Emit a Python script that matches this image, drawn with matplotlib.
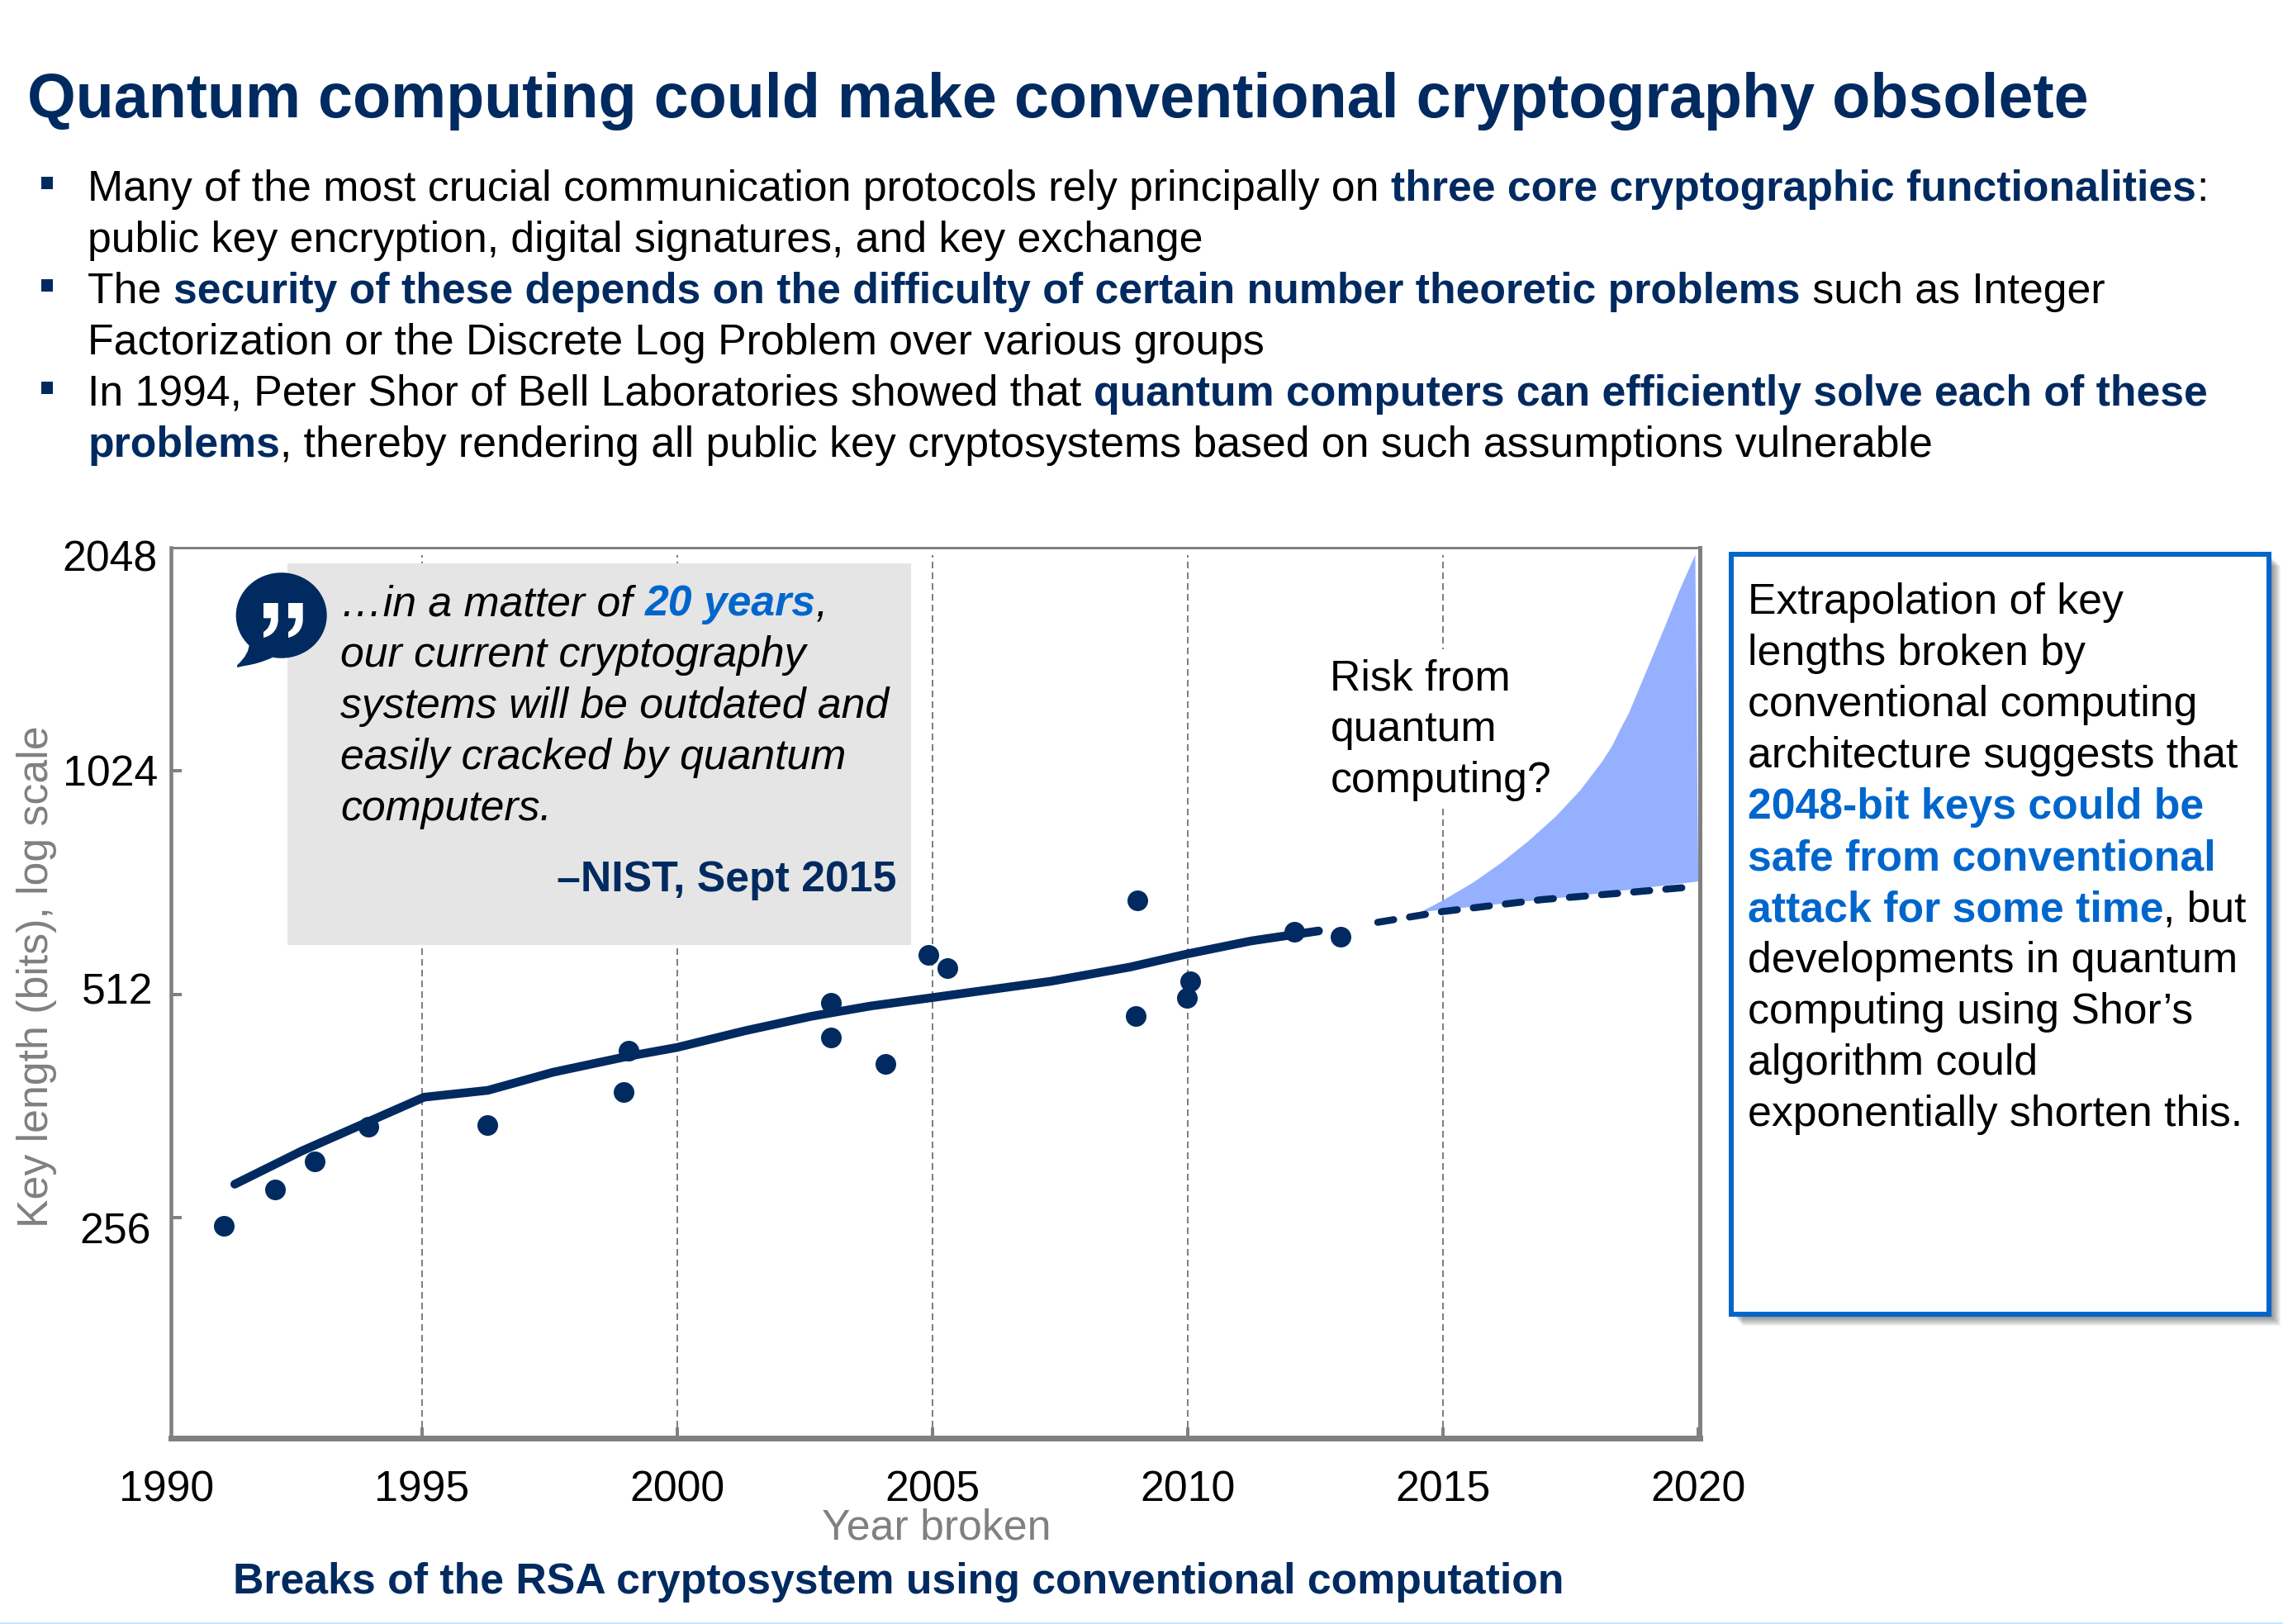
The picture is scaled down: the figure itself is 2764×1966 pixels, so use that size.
import numpy as np
import matplotlib
matplotlib.use("Agg")
import matplotlib.pyplot as plt
from matplotlib.patches import Rectangle, Ellipse, PathPatch
from matplotlib.path import Path
from matplotlib.transforms import Affine2D

# ---------- data ----------
break_years = [1991.11, 1992.12, 1992.89, 1993.95, 1996.28, 1998.95, 1999.04, 2003.01, 2003.01, 2004.08,
               2004.92, 2005.29, 2009.01, 2008.98, 2010.05, 2009.98, 2012.08, 2012.99]
break_bits = [249.7, 279.3, 304.9, 339.2, 340.8, 378.2, 429.7, 447.9, 498.8, 412.5,
              578.3, 555.5, 685, 478.6, 532.6, 505.9, 621.2, 611.4]
trend_years = [1991.33, 1992.65, 1995.04, 1996.29, 1997.57, 1999.01, 1999.99, 2001.32, 2002.62, 2003.78,
               2005.03, 2007.32, 2008.87, 2009.98, 2011.24, 2012.56]
trend_bits = [284, 315, 372, 380, 402, 422, 434, 457, 478, 493.5, 507, 533, 557, 580, 604, 623]
extrap_years = [2013.72, 2015.0, 2016.94, 2018.56, 2019.80]
extrap_bits = [639.9, 661.8, 686.6, 701.3, 713.5]
risk_upper_years = [2014.56, 2015.00, 2015.59, 2016.13, 2016.67, 2017.21, 2017.69, 2018.12, 2018.31, 2018.47,
                    2018.64, 2018.82, 2019.09, 2019.36, 2019.63, 2019.94]
risk_upper_bits = [660.7, 684.9, 724.0, 768.5, 822.9, 888.6, 963.9, 1054.1, 1105, 1163.4,
                   1224, 1310.7, 1452, 1609, 1790, 2000]
risk_lower_years = [2020.00, 2017.48, 2014.56]
risk_lower_bits = [726.4, 692.4, 660.7]
x_ticks = [1990, 1995, 2000, 2005, 2010, 2015, 2020]
y_ticks = [256, 512, 1024, 2048]
grid_years = [1995, 2000, 2005, 2010, 2015]

title = "Quantum computing could make conventional cryptography obsolete"
bullets = [
    [("Many of the most crucial communication protocols rely principally on ", "n"),
     ("three core cryptographic functionalities", "b"), (":", "n")],
    [("public key encryption, digital signatures, and key exchange", "n")],
    [("The ", "n"), ("security of these depends on the difficulty of certain number theoretic problems", "b"),
     (" such as Integer", "n")],
    [("Factorization or the Discrete Log Problem over various groups", "n")],
    [("In 1994, Peter Shor of Bell Laboratories showed that ", "n"),
     ("quantum computers can efficiently solve each of these", "b")],
    [("problems", "b"), (", thereby rendering all public key cryptosystems based on such assumptions vulnerable", "n")],
]
quote = [
    [("…in a matter of ", "i"), ("20 years", "ib"), (",", "i")],
    [("our current cryptography", "i")],
    [("systems will be outdated and", "i")],
    [("easily cracked by quantum", "i")],
    [("computers.", "i")],
]
side = [
    [("Extrapolation of key", "n")],
    [("lengths broken by", "n")],
    [("conventional computing", "n")],
    [("architecture suggests that", "n")],
    [("2048-bit keys could be", "a")],
    [("safe from conventional", "a")],
    [("attack for some time", "a"), (", but", "n")],
    [("developments in quantum", "n")],
    [("computing using Shor’s", "n")],
    [("algorithm could", "n")],
    [("exponentially shorten this.", "n")],
]

# ---------- style ----------
W, H = 2764, 1966
NAVY = "#002A60"
BLUE = "#0066CC"
GRAY = "#808080"
FS = 18.64
plt.rcParams["font.family"] = ["Liberation Sans", "DejaVu Sans"]
fig = plt.figure(figsize=(W / 200, H / 200), dpi=200, facecolor="white")
PX = Affine2D().scale(1 / W, -1 / H).translate(0, 1) + fig.transFigure
px = 0.36  # points per pixel

STY = {
    "n": dict(color="black"),
    "b": dict(color=NAVY, fontweight="bold"),
    "a": dict(color=BLUE, fontweight="bold"),
    "i": dict(color="black", fontstyle="italic"),
    "ib": dict(color=BLUE, fontweight="bold", fontstyle="italic"),
}
renderer = fig.canvas.get_renderer()


def T(x, y, s, **kw):
    kw.setdefault("fontsize", FS)
    kw.setdefault("va", "baseline")
    return fig.text(x, y, s, transform=PX, **kw)


def advance(s, **kw):
    a = T(0, 0, s + "|", **kw)
    b = T(0, 0, "|", **kw)
    w = a.get_window_extent(renderer).width - b.get_window_extent(renderer).width
    a.remove()
    b.remove()
    return w


def rich(x, y, pieces):
    for s, k in pieces:
        T(x, y, s, **STY[k])
        x += advance(s, **STY[k])


# ---------- axes: 1990 at px 202, 2020.03 at 2058; 2048 at 662.5, 129.2 at 1741 ----------
L, R, TOP, BOT = 202.0, 2058.0, 662.5, 1741.0
ax = fig.add_axes([L / W, 1 - BOT / H, (R - L) / W, (BOT - TOP) / H])
ax.set_xscale("linear")
ax.set_yscale("log", base=2)
ax.set_xlim(1990, 2020.03)
ax.set_ylim(129.2, 2048)
ax.patch.set_alpha(0)
for name, lw in dict(left=4.5, bottom=7, top=3, right=5).items():
    ax.spines[name].set_color(GRAY)
    ax.spines[name].set_linewidth(lw * px)
ax.spines["left"].set_position(("data", 1990.08))
ax.spines["bottom"].set_bounds(1990.08, 2020.03)
ax.spines["top"].set_bounds(1990.08, 2020.03)

ax.set_xticks(x_ticks)
ax.set_xticklabels([str(v) for v in x_ticks])
ax.set_yticks(y_ticks)
ax.set_yticklabels([str(v) for v in y_ticks])
ax.minorticks_off()
ax.tick_params(axis="both", which="major", direction="in", length=13 * px, width=4 * px,
               color=GRAY, labelsize=FS, labelcolor="black")
ax.tick_params(axis="x", pad=38.5 * px)
ax.tick_params(axis="y", pad=16 * px)
ax.xaxis.get_major_ticks()[0].tick1line.set_visible(False)
ax.yaxis.get_major_ticks()[3].tick1line.set_visible(False)
for tick, (dx, dy) in zip(ax.yaxis.get_major_ticks(), [(-8, 12), (-6, -7.5), (0, -1), (0, 9.5)]):
    lab = tick.label1
    lab.set_transform(lab.get_transform() + Affine2D().translate(dx, -dy))

ax.set_ylabel("Key length (bits), log scale", color=GRAY, fontsize=FS, va="baseline")
ax.yaxis.set_label_coords(58, 1182, transform=PX)
ax.set_xlabel("Year broken", color=GRAY, fontsize=FS, va="baseline")
ax.xaxis.set_label_coords(1134, 1863.5, transform=PX)

ax.vlines(grid_years, 129.2, 2000, colors=GRAY, linewidth=2 * px, linestyles=(0, (4, 2.5)), zorder=1)
ax.fill(risk_upper_years + risk_lower_years, risk_upper_bits + risk_lower_bits,
        color="#94B0FE", linewidth=0, zorder=3)
ax.plot(extrap_years, extrap_bits, color=NAVY, lw=8.5 * px, ls=(0, (2.3, 2.29)),
        dash_capstyle="round", zorder=4)
ax.plot(trend_years, trend_bits, color=NAVY, lw=10.5 * px, solid_capstyle="round", zorder=5)
ax.plot(break_years, break_bits, ls="none", marker="o", ms=25 * px, mfc=NAVY, mec="none", zorder=6)

# ---------- page furniture ----------
fig.add_artist(Rectangle((348, 681.5), 755, 462.5, transform=PX, fc="#E5E5E5", ec="none", zorder=1))
fig.add_artist(Rectangle((1600, 786), 270, 188, transform=PX, fc="white", ec="none", zorder=1))
fig.add_artist(Rectangle((0, 1964), W, 2, transform=PX, fc="#C8E2FF", ec="none", zorder=1))

# speech bubble
fig.add_artist(Ellipse((340.7, 745), 110, 103.5, transform=PX, fc=NAVY, ec="none", zorder=2))
tail = Path([(302, 778), (302, 792), (287.3, 805), (287, 808), (296, 806), (312, 804), (330, 796), (302, 778)],
            [Path.MOVETO, Path.CURVE3, Path.CURVE3, Path.LINETO, Path.LINETO, Path.CURVE3, Path.CURVE3,
             Path.CLOSEPOLY])
fig.add_artist(PathPatch(tail, transform=PX, fc=NAVY, ec="none", zorder=2))
for x0 in (319, 349):
    mark = Path([(x0, 730), (x0 + 17.7, 730), (x0 + 17.7, 752), (x0 + 16, 768), (x0, 772), (x0, 765),
                 (x0 + 8.5, 760), (x0 + 9, 748.3), (x0, 748.3), (x0, 730)],
                [Path.MOVETO, Path.LINETO, Path.LINETO, Path.CURVE3, Path.CURVE3, Path.LINETO,
                 Path.CURVE3, Path.CURVE3, Path.LINETO, Path.CLOSEPOLY])
    fig.add_artist(PathPatch(mark, transform=PX, fc="white", ec="none", zorder=2.5))

# bullets
for y in (214, 338, 462):
    fig.add_artist(Rectangle((50, y), 14, 15, transform=PX, fc=NAVY, ec="none", zorder=2))

# side box with soft shadow
for off in range(14, 2, -1):
    fig.add_artist(Rectangle((2096 + off, 671 + off), 651, 920, transform=PX, fc="black", ec="none",
                             alpha=0.045, zorder=1))
fig.add_artist(Rectangle((2096, 671), 651, 920, transform=PX, fc="white", ec=BLUE, lw=6 * px, zorder=2))

# ---------- text ----------
T(33.5, 141.5, title, color=NAVY, fontweight="bold", fontsize=27.19)
for i, line in enumerate(bullets):
    rich(106.5, 243 + 61.9 * i, line)
for i, line in enumerate(quote):
    rich(412.5, 745.5 + 61.8 * i, line)
T(1086, 1079, "–NIST, Sept 2015", color=NAVY, fontweight="bold", ha="right")
for i, s in enumerate(["Risk from", "quantum", "computing?"]):
    T(1610.5, 835 + 62 * i, s, color="black")
for i, line in enumerate(side):
    rich(2116, 743 + 62 * i, line)
T(282.5, 1928.5, "Breaks of the RSA cryptosystem using conventional computation", color=NAVY, fontweight="bold")

fig.savefig("out.png", dpi=200, facecolor="white")
